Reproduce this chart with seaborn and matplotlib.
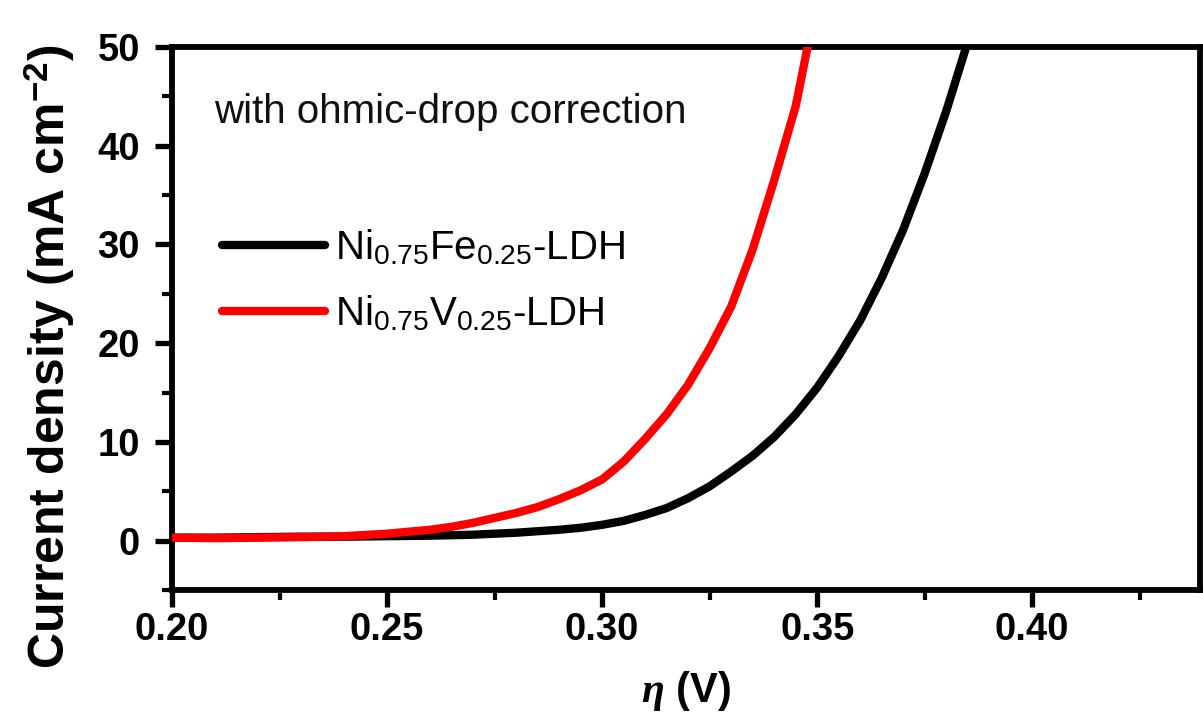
import numpy as np
import pandas as pd
import matplotlib
matplotlib.use("Agg")
import matplotlib.pyplot as plt
import seaborn as sns
from matplotlib.ticker import MultipleLocator

# ---- data ----
eta_fe = [0.200, 0.210, 0.220, 0.230, 0.240, 0.250, 0.260, 0.270, 0.280, 0.285,
          0.290, 0.295, 0.300, 0.305, 0.310, 0.315, 0.320, 0.325, 0.330, 0.335,
          0.340, 0.345, 0.350, 0.355, 0.360, 0.365, 0.370, 0.375, 0.380, 0.385]
j_fe = [0.3, 0.3, 0.35, 0.4, 0.4, 0.45, 0.5, 0.6, 0.8, 0.95,
        1.1, 1.3, 1.6, 2.0, 2.6, 3.3, 4.3, 5.5, 7.0, 8.6,
        10.5, 12.8, 15.5, 18.7, 22.3, 26.6, 31.5, 37.2, 43.5, 50.5]

eta_v = [0.200, 0.210, 0.220, 0.230, 0.240, 0.250, 0.255, 0.260, 0.265, 0.270,
         0.275, 0.280, 0.285, 0.290, 0.295, 0.300, 0.305, 0.310, 0.315, 0.320,
         0.325, 0.330, 0.335, 0.340, 0.345, 0.348]
j_v = [0.3, 0.25, 0.3, 0.35, 0.45, 0.7, 0.9, 1.1, 1.4, 1.8,
       2.3, 2.8, 3.4, 4.2, 5.1, 6.2, 8.0, 10.3, 12.8, 15.8,
       19.5, 23.7, 29.5, 36.5, 44.0, 50.5]

labels = [r'Ni$_{0.75}$Fe$_{0.25}$-LDH', r'Ni$_{0.75}$V$_{0.25}$-LDH']
colors = ['#000000', '#ff0000']

x_major = [0.20, 0.25, 0.30, 0.35, 0.40]
y_major = [0, 10, 20, 30, 40, 50]

df = pd.concat([
    pd.DataFrame({'eta': eta_fe, 'j': j_fe, 'sample': labels[0]}),
    pd.DataFrame({'eta': eta_v, 'j': j_v, 'sample': labels[1]}),
], ignore_index=True)

sns.set_theme(style='ticks')
plt.rcParams['font.family'] = ['Liberation Sans', 'DejaVu Sans']
plt.rcParams['mathtext.fontset'] = 'custom'
plt.rcParams['mathtext.rm'] = 'Liberation Sans'
plt.rcParams['mathtext.it'] = 'Liberation Serif:italic:bold'
plt.rcParams['mathtext.bf'] = 'Liberation Sans:bold'
plt.rcParams['text.color'] = 'black'
plt.rcParams['axes.labelcolor'] = 'black'
plt.rcParams['xtick.color'] = 'black'
plt.rcParams['ytick.color'] = 'black'

fig = plt.figure(figsize=(12.03, 7.18), dpi=100)
ax = fig.add_axes([0.143, 0.1783, 0.8545, 0.7563])

sns.lineplot(data=df, x='eta', y='j', hue='sample', palette=colors,
             hue_order=labels, linewidth=6, ax=ax, sort=False, legend=False)
ax.lines[0].set_zorder(3)
ax.lines[1].set_zorder(4)

ax.set_xlim(0.20, 0.439)
ax.set_ylim(-5, 50)
ax.set_xticks(x_major)
ax.set_xticklabels([f'{v:.2f}' for v in x_major])
ax.set_yticks(y_major)
ax.xaxis.set_minor_locator(MultipleLocator(0.025))
ax.yaxis.set_minor_locator(MultipleLocator(5))

for s in ax.spines.values():
    s.set_linewidth(4.2)
    s.set_color('black')

ax.tick_params(axis='both', which='major', direction='out', length=12, width=3.8,
               labelsize=27.5, top=False, right=False, color='black',
               labelcolor='black')
ax.tick_params(axis='x', which='major', pad=3.5)
ax.tick_params(axis='y', which='major', pad=11)
ax.tick_params(axis='both', which='minor', direction='out', length=7, width=3,
               top=False, right=False, color='black')
for t in ax.get_xticklabels() + ax.get_yticklabels():
    t.set_fontweight('bold')

ax.set_xlabel(r'$\eta$ (V)', fontsize=30, fontweight='bold')
ax.xaxis.set_label_coords(0.5, -0.145)
ax.set_ylabel(r'Current density (mA cm$^{\mathbf{-2}}$)', fontsize=36,
              fontweight='bold')
ax.yaxis.set_label_coords(-0.092, 0.43)

ax.text(0.041, 0.880, 'with ohmic-drop correction', transform=ax.transAxes,
        fontsize=29, ha='left', va='center', color='#111111')

handles = [plt.Line2D([], [], color=c, lw=6, solid_capstyle='round') for c in colors]
ax.legend(handles, labels, loc='upper left', bbox_to_anchor=(0.0486, 0.667),
          frameon=False, fontsize=29, handlelength=2.55, handletextpad=0.25,
          labelspacing=0.65, borderaxespad=0, borderpad=0)

ax.grid(False)
fig.savefig('out.png', dpi=100)
